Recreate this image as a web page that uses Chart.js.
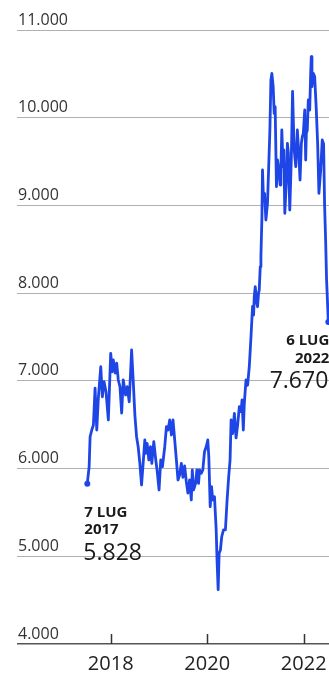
<!DOCTYPE html>
<html lang="it">
<head>
<meta charset="utf-8">
<title>Indice 2017–2022</title>
<script src="https://cdn.jsdelivr.net/npm/chart.js@4.4.1/dist/chart.umd.min.js"></script>
<style>
  html, body { margin: 0; padding: 0; background: #fff; }
  #wrap { width: 329px; height: 673px; }
</style>
</head>
<body>
<div id="wrap"><canvas id="chart"></canvas></div>
<script>
// closing levels, dates as decimal years
const dates = [
  2017.515, 2017.553, 2017.573, 2017.608, 2017.641, 2017.676, 2017.711, 2017.744, 2017.794, 2017.827,
  2017.862, 2017.903, 2017.951, 2018.000, 2018.033, 2018.054, 2018.095, 2018.124, 2018.157, 2018.192,
  2018.227, 2018.260, 2018.309, 2018.342, 2018.384, 2018.433, 2018.466, 2018.501, 2018.536, 2018.569,
  2018.604, 2018.639, 2018.672, 2018.707, 2018.728, 2018.755, 2018.790, 2018.825, 2018.852, 2018.893,
  2018.934, 2018.961, 2019.002, 2019.037, 2019.072, 2019.120, 2019.155, 2019.188, 2019.223, 2019.258,
  2019.291, 2019.326, 2019.361, 2019.394, 2019.429, 2019.464, 2019.497, 2019.532, 2019.567, 2019.600,
  2019.635, 2019.670, 2019.691, 2019.718, 2019.759, 2019.786, 2019.821, 2019.841, 2019.876, 2019.909,
  2019.944, 2019.979, 2020.012, 2020.033, 2020.062, 2020.089, 2020.115, 2020.151, 2020.186, 2020.206,
  2020.227, 2020.247, 2020.274, 2020.301, 2020.336, 2020.377, 2020.412, 2020.445, 2020.474, 2020.495,
  2020.528, 2020.563, 2020.598, 2020.631, 2020.666, 2020.701, 2020.722, 2020.748, 2020.769, 2020.804,
  2020.837, 2020.872, 2020.907, 2020.940, 2020.961, 2020.975, 2020.996, 2021.023, 2021.043, 2021.064,
  2021.078, 2021.099, 2021.113, 2021.134, 2021.146, 2021.167, 2021.188, 2021.216, 2021.249, 2021.270,
  2021.299, 2021.320, 2021.340, 2021.367, 2021.388, 2021.408, 2021.435, 2021.456, 2021.476, 2021.511,
  2021.526, 2021.546, 2021.573, 2021.588, 2021.608, 2021.641, 2021.662, 2021.682, 2021.711, 2021.744,
  2021.769, 2021.800, 2021.835, 2021.868, 2021.897, 2021.924, 2021.951, 2021.971, 2021.992, 2022.021,
  2022.041, 2022.054, 2022.074, 2022.095, 2022.124, 2022.144, 2022.157, 2022.171, 2022.198, 2022.227,
  2022.260, 2022.289, 2022.315, 2022.351, 2022.384, 2022.412, 2022.433, 2022.454, 2022.474, 2022.510
];
const closes = [
  5828, 6021, 6363, 6440, 6497, 6918, 6440, 6804, 7161, 6819,
  6990, 6876, 6554, 7314, 7104, 7238, 7089, 7203, 7010, 6933,
  6633, 7010, 6839, 6933, 6762, 7352, 7010, 6610, 6363, 6249,
  6060, 5813, 6060, 6326, 6174, 6288, 6098, 6249, 6060, 6307,
  6098, 5984, 5756, 6098, 6021, 6249, 6477, 6440, 6554, 6383,
  6554, 6326, 6098, 5870, 5930, 6060, 5900, 6030, 5850, 5720,
  5870, 5642, 5984, 5756, 5832, 5984, 5832, 5984, 5946, 5984,
  6192, 6249, 6326, 6135, 5565, 5793, 5642, 5679, 5300, 4920,
  4620, 5034, 5072, 5223, 5300, 5300, 5642, 5907, 6100, 6554,
  6400, 6630, 6350, 6500, 6705, 6650, 6782, 6440, 6744, 7010,
  6950, 7161, 7500, 7850, 7750, 7959, 8073, 7900, 7845, 8000,
  8035, 8300, 8415, 8871, 9404, 9062, 9138, 8834, 9024, 9366,
  9860, 10430, 10506, 10354, 10050, 10126, 9214, 9518, 9442, 9233,
  9366, 9860, 9442, 9632, 8910, 9290, 9708, 9600, 8948, 9556,
  10300, 9650, 9442, 9860, 9594, 9290, 9708, 9784, 9822, 10088,
  9518, 9822, 9860, 10202, 10088, 10500, 10696, 10354, 10506, 10468,
  10100, 9700, 9138, 9400, 9746, 9700, 9000, 8606, 8150, 7670
];
const yearTicks = [2018, 2020, 2022];
const valueTicks = [4000, 5000, 6000, 7000, 8000, 9000, 10000, 11000];
const firstLabel = ['7 LUG', '2017'];
const lastLabel = ['6 LUG', '2022'];

const BLUE = '#1e46e6';
const FONT = "'Open Sans', sans-serif";

function thousands(v) {
  return String(v).replace(/\B(?=(\d{3})+(?!\d))/g, '.');
}

// year tick marks pointing up from the base line, plus the start/end callouts
const decor = {
  id: 'decor',
  afterDraw(chart) {
    const { ctx, chartArea, scales } = chart;
    ctx.save();
    ctx.strokeStyle = '#333';
    ctx.lineWidth = 1.5;
    yearTicks.forEach(y => {
      const px = Math.round(scales.x.getPixelForValue(y)) + 0.5;
      ctx.beginPath();
      ctx.moveTo(px, chartArea.bottom);
      ctx.lineTo(px, chartArea.bottom - 10);
      ctx.stroke();
    });

    const last = dates.length - 1;
    const x0 = scales.x.getPixelForValue(dates[0]);
    const y0 = scales.y.getPixelForValue(closes[0]);
    const x1 = scales.x.getPixelForValue(dates[last]);
    const y1 = scales.y.getPixelForValue(closes[last]);

    ctx.fillStyle = '#1a1a1a';
    ctx.textBaseline = 'alphabetic';

    ctx.textAlign = 'left';
    ctx.font = `bold 15px ${FONT}`;
    ctx.fillText(firstLabel[0], x0 - 3, y0 + 33);
    ctx.fillText(firstLabel[1], x0 - 3, y0 + 50);
    ctx.font = `23px ${FONT}`;
    ctx.fillText(thousands(closes[0]), x0 - 4, y0 + 76);

    ctx.textAlign = 'right';
    ctx.font = `bold 15px ${FONT}`;
    ctx.fillText(lastLabel[0], x1 + 1, y1 + 23);
    ctx.fillText(lastLabel[1], x1 + 1, y1 + 41);
    ctx.font = `23px ${FONT}`;
    ctx.fillText(thousands(closes[last]), x1, y1 + 66);
    ctx.restore();
  }
};

new Chart(document.getElementById('chart'), {
  type: 'line',
  data: {
    datasets: [{
      data: dates.map((d, i) => ({ x: d, y: closes[i] })),
      borderColor: BLUE,
      borderWidth: 2.8,
      borderJoinStyle: 'round',
      tension: 0,
      clip: false,
      pointRadius: c => (c.dataIndex === 0 || c.dataIndex === dates.length - 1) ? 3 : 0,
      pointBackgroundColor: BLUE,
      pointBorderWidth: 0
    }]
  },
  options: {
    responsive: true,
    maintainAspectRatio: false,
    animation: false,
    layout: { autoPadding: false, padding: { left: 17, top: 30, right: 0, bottom: 0 } },
    plugins: { legend: { display: false }, tooltip: { enabled: false } },
    scales: {
      x: {
        type: 'linear',
        min: 2016.058,
        max: 2022.524,
        afterBuildTicks: s => { s.ticks = yearTicks.map(v => ({ value: v })); },
        afterFit: s => { s.height = 29; s.paddingLeft = 0; s.paddingRight = 0; },
        ticks: {
          font: { family: FONT, size: 20 },
          color: '#222',
          padding: 8,
          maxRotation: 0,
          callback: v => String(v)
        },
        grid: { display: false, drawTicks: false },
        border: { display: false }
      },
      y: {
        min: 4000,
        max: 11000,
        afterBuildTicks: s => { s.ticks = valueTicks.map(v => ({ value: v })); },
        afterFit: s => { s.width = 0; s.paddingTop = 0; s.paddingBottom = 0; },
        ticks: {
          mirror: true,
          padding: 1,
          labelOffset: -10,
          font: { family: FONT, size: 16 },
          color: '#333',
          callback: v => thousands(v)
        },
        grid: {
          drawTicks: false,
          color: c => c.tick && c.tick.value === 4000 ? '#555' : '#b0b0b0',
          lineWidth: c => c.tick && c.tick.value === 4000 ? 1.5 : 1
        },
        border: { display: false }
      }
    }
  },
  plugins: [decor]
});
</script>
</body>
</html>
